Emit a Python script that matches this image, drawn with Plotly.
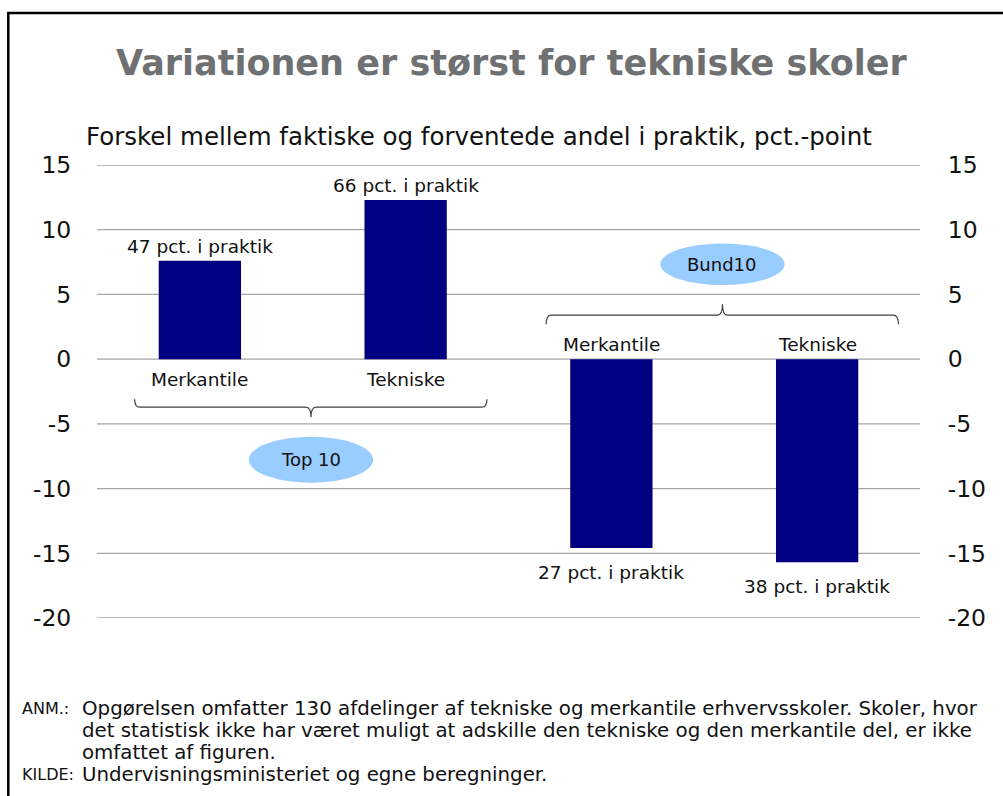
import plotly.graph_objects as go

# ---- data ----
categories = ["Merkantile", "Tekniske", "Merkantile", "Tekniske"]
groups = ["Top 10", "Top 10", "Bund10", "Bund10"]
values = [7.6, 12.3, -14.6, -15.7]
bar_labels = ["47 pct. i praktik", "66 pct. i praktik", "27 pct. i praktik", "38 pct. i praktik"]
tick_vals = [15, 10, 5, 0, -5, -10, -15, -20]
tick_text = ["15", "10", "5", "0", "-5", "-10", "-15", "-20"]
group_names = ["Top 10", "Bund10"]

title = "Variationen er størst for tekniske skoler"
subtitle = "Forskel mellem faktiske og forventede andel i praktik, pct.-point"
note_lines = [
    "Opgørelsen omfatter 130 afdelinger af tekniske og merkantile erhvervsskoler. Skoler, hvor",
    "det statistisk ikke har været muligt at adskille den tekniske og den merkantile del, er ikke",
    "omfattet af figuren.",
]
source_text = "Undervisningsministeriet og egne beregninger."

FONT = "DejaVu Sans, Verdana, sans-serif"
NAVY = "#000080"
TXT = "#111111"
W, H = 1003, 796
L, R, T, B = 97, 83, 165, 178
pw, ph = W - L - R, H - T - B

xs = list(range(len(categories)))

def px_x(p):  # pixel -> paper x
    return (p - L) / pw

def px_y(p):  # pixel -> paper y
    return (H - B - p) / ph

fig = go.Figure()
fig.add_trace(go.Bar(
    x=xs, y=values, width=0.4, marker=dict(color=NAVY, line=dict(width=0)),
    hoverinfo="skip", showlegend=False,
))
fig.add_trace(go.Scatter(
    x=xs, y=values, yaxis="y2", mode="markers", marker=dict(opacity=0),
    hoverinfo="skip", showlegend=False,
))

annotations = []
shapes = []

# gridlines
for v in tick_vals:
    shapes.append(dict(type="line", xref="paper", yref="y", x0=0, x1=1, y0=v, y1=v,
                       line=dict(color="#a6a6a6", width=1.3), layer="below"))

# value labels and category labels
for x, c, v, lab in zip(xs, categories, values, bar_labels):
    if v >= 0:
        annotations.append(dict(x=x, y=v, xref="x", yref="y", text=lab, showarrow=False,
                                yanchor="bottom", yshift=2,
                                font=dict(family=FONT, size=18.5, color=TXT)))
        annotations.append(dict(x=x, y=0, xref="x", yref="y", text=c, showarrow=False,
                                yanchor="top", yshift=-8,
                                font=dict(family=FONT, size=18.5, color=TXT)))
    else:
        annotations.append(dict(x=x, y=v, xref="x", yref="y", text=lab, showarrow=False,
                                yanchor="top", yshift=-12,
                                font=dict(family=FONT, size=18.5, color=TXT)))
        annotations.append(dict(x=x, y=0, xref="x", yref="y", text=c, showarrow=False,
                                yanchor="bottom", yshift=2,
                                font=dict(family=FONT, size=18.5, color=TXT)))

# group braces + ellipses
for gname in group_names:
    idx = [i for i, g in enumerate(groups) if g == gname]
    lo, hi = min(idx), max(idx)
    xc = (lo + hi) / 2 + 0.04
    x0, x1 = lo - 0.317, hi + 0.395
    pos = values[lo] >= 0
    if pos:
        yl, ye, yn = -3.71, -3.09, -4.48
        ey0, ey1 = -9.55, -6.0
    else:
        yl, ye, yn = 3.40, 2.70, 4.25
        ey0, ey1 = 5.72, 8.94
    d = 0.025
    path = (f"M {x0},{ye} Q {x0},{yl} {x0+d},{yl} L {xc-d},{yl} "
            f"Q {xc},{yl} {xc},{yn} Q {xc},{yl} {xc+d},{yl} "
            f"L {x1-d},{yl} Q {x1},{yl} {x1},{ye}")
    shapes.append(dict(type="path", path=path, xref="x", yref="y",
                       line=dict(color="#404040", width=1.2)))
    shapes.append(dict(type="circle", xref="x", yref="y",
                       x0=xc - 0.302, x1=xc + 0.302, y0=ey0, y1=ey1,
                       fillcolor="#99ccff", line=dict(width=0), layer="above"))
    annotations.append(dict(x=xc, y=(ey0 + ey1) / 2, xref="x", yref="y", text=gname,
                            showarrow=False, font=dict(family=FONT, size=18, color=TXT)))

# frame
shapes.append(dict(type="rect", xref="paper", yref="paper",
                   x0=px_x(8.3), x1=px_x(1012), y0=px_y(13), y1=px_y(805),
                   line=dict(color="black", width=2.5), layer="above"))

# title, subtitle, notes
annotations.append(dict(x=px_x(511.5), y=px_y(63), xref="paper", yref="paper", text=f"<b>{title}</b>",
                        showarrow=False, xanchor="center", yanchor="middle",
                        font=dict(family=FONT, size=35, color="#6f7072")))
annotations.append(dict(x=px_x(84), y=px_y(137), xref="paper", yref="paper", text=subtitle,
                        showarrow=False, xanchor="left", yanchor="middle",
                        font=dict(family=FONT, size=24.5, color=TXT)))
NOTE = 19.8
LAB = 16
note_y = [708, 730, 752]
annotations.append(dict(x=px_x(20), y=px_y(708), xref="paper", yref="paper", text="ANM.:",
                        showarrow=False, xanchor="left", yanchor="middle",
                        font=dict(family=FONT, size=LAB, color=TXT)))
for ln, yy in zip(note_lines, note_y):
    annotations.append(dict(x=px_x(80), y=px_y(yy), xref="paper", yref="paper", text=ln,
                            showarrow=False, xanchor="left", yanchor="middle",
                            font=dict(family=FONT, size=NOTE, color=TXT)))
annotations.append(dict(x=px_x(20), y=px_y(774), xref="paper", yref="paper", text="KILDE:",
                        showarrow=False, xanchor="left", yanchor="middle",
                        font=dict(family=FONT, size=LAB, color=TXT)))
annotations.append(dict(x=px_x(80), y=px_y(774), xref="paper", yref="paper", text=source_text,
                        showarrow=False, xanchor="left", yanchor="middle",
                        font=dict(family=FONT, size=NOTE, color=TXT)))

yax = dict(range=[-20, 15], tickvals=tick_vals, ticktext=tick_text,
           ticks="outside", tickcolor="rgba(0,0,0,0)", showgrid=False,
           tickfont=dict(family=FONT, size=23.5, color=TXT),
           zeroline=False, showline=False, fixedrange=True)

fig.update_layout(
    width=W, height=H,
    margin=dict(l=L, r=R, t=T, b=B, autoexpand=False),
    paper_bgcolor="white", plot_bgcolor="white",
    xaxis=dict(range=[-0.5, 3.5], visible=False, fixedrange=True),
    yaxis=dict(**yax, ticklen=20),
    yaxis2=dict(**yax, ticklen=22, overlaying="y", side="right"),
    shapes=shapes, annotations=annotations,
    bargap=0.6, showlegend=False,
)

fig.write_html("out.html", config={"displayModeBar": False},
               post_script="document.body.style.margin='0';")
